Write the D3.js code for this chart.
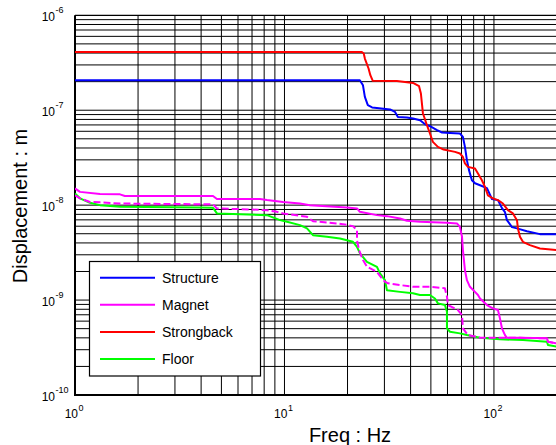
<!DOCTYPE html>
<meta charset="utf-8">
<script src="https://d3js.org/d3.v7.min.js"></script>
<style>
  body { margin: 0; background: #fff; }
  text { font-family: "Liberation Sans", Arial, sans-serif; }
</style>
<div id="my_dataviz"></div>
<script>

  // data: [freq (Hz), displacement (m)]
  var structure = [[1,2.07e-7],[22.9,2.07e-7],[23.7,1.83e-7],[24.2,1.38e-7],[25.0,1.13e-7],[26.2,1.07e-7],
    [27.6,1.057e-7],[31.9,1.02e-7],[33.7,9.6e-8],[34.8,8.5e-8],[38.4,8.38e-8],[41.1,8.18e-8],[44.4,7.85e-8],
    [46.9,7.12e-8],[49.5,6.78e-8],[53.5,6.16e-8],[56.5,5.83e-8],[61.7,5.77e-8],[68.8,5.69e-8],[71.1,5.24e-8],
    [72.7,4.11e-8],[74.3,2.98e-8],[76.0,2.34e-8],[78.5,1.83e-8],[81.2,1.70e-8],[85.8,1.62e-8],[92.6,1.51e-8],
    [97.8,1.16e-8],[104.5,1.13e-8],[109.2,9.3e-9],[112.9,8.43e-9],[115.4,6.95e-9],[121.9,5.87e-9],
    [128.8,5.69e-9],[143.7,5.32e-9],[165.8,4.95e-9],[200,4.95e-9]];

  var strongback = [[1,4.11e-7],[23.4,4.11e-7],[23.9,3.95e-7],[24.2,3.5e-7],[25.2,2.75e-7],[25.7,2.34e-7],
    [26.4,2.04e-7],[34.4,2.03e-7],[41.1,1.94e-7],[43.9,1.79e-7],[44.8,1.5e-7],[45.3,1.18e-7],[45.8,9.3e-8],
    [47.9,6.95e-8],[49.5,5.69e-8],[51.1,4.64e-8],[54.0,4.11e-8],[57.5,3.85e-8],[65.2,3.64e-8],[68.8,3.5e-8],
    [71.1,3.22e-8],[72.7,2.75e-8],[75.1,2.53e-8],[81.2,2.43e-8],[83.9,2.16e-8],[87.6,1.83e-8],[90.6,1.56e-8],
    [93.6,1.27e-8],[98.9,1.18e-8],[104.5,1.13e-8],[110.4,1.04e-8],[116.6,8.86e-9],[123.2,8.18e-9],
    [128.8,6.95e-9],[130.2,5.69e-9],[133.1,4.64e-9],[137.5,4.11e-9],[148.5,3.79e-9],[165.8,3.5e-9],[200,3.36e-9]];

  var magnet = [[1,1.5e-8],[1.056,1.38e-8],[1.316,1.31e-8],[1.64,1.30e-8],[1.73,1.25e-8],[4.56,1.25e-8],
    [4.76,1.16e-8],[7.64,1.16e-8],[8.25,1.13e-8],[9.84,1.08e-8],[11.86,1.04e-8],[13.23,1.0e-8],[19.9,9.46e-9],
    [22.2,9.23e-9],[22.9,8.5e-9],[27.6,7.85e-9],[30.9,7.66e-9],[35.6,7.24e-9],[38.4,6.84e-9],[44.4,6.67e-9],
    [59.7,6.51e-9],[66.6,6.42e-9],[68.8,5.91e-9],[70.4,4.64e-9],[71.1,3.36e-9],[72.7,2.07e-9],[74.3,1.62e-9],
    [76.8,1.38e-9],[81.2,1.22e-9],[83.9,1.13e-9],[85.8,1.04e-9],[92.6,8.86e-10],[98.9,8.18e-10],[104.5,7.85e-10],
    [106.8,6.42e-10],[109.2,5.04e-10],[112.9,4.28e-10],[115.4,4.01e-10],[133.1,4.01e-10],[179.1,3.95e-10],
    [181.1,3.64e-10],[200,3.5e-10]];

  var magnetDashed = [[1,1.27e-8],[1.056,1.18e-8],[1.179,1.08e-8],[1.316,1.07e-8],[1.64,1.04e-8],[4.56,1.02e-8],
    [4.76,9.23e-9],[6.84,9.01e-9],[8.25,8.86e-9],[9.21,8.5e-9],[9.84,8.18e-9],[12.81,7.53e-9],[13.68,6.78e-9],
    [19.0,6.31e-9],[21.2,6.01e-9],[22.2,5.45e-9],[22.2,4.28e-9],[22.7,3.36e-9],[23.7,2.64e-9],[24.8,2.24e-9],
    [27.6,1.99e-9],[29.2,1.69e-9],[30.2,1.56e-9],[31.2,1.5e-9],[35.6,1.44e-9],[41.1,1.38e-9],[49.5,1.38e-9],
    [58.3,1.33e-9],[59.7,1.08e-9],[60.3,8.86e-10],[67.3,7.85e-10],[70.4,6.95e-10],[71.1,5.04e-10],[75.1,4.28e-10],
    [85.8,4.01e-10],[115.4,4.01e-10],[133.1,4.01e-10],[179.1,3.95e-10],[181.1,3.64e-10],[200,3.5e-10]];

  var floor = [[1,1.33e-8],[1.056,1.18e-8],[1.179,1.06e-8],[1.316,1.0e-8],[1.64,9.6e-9],[3.95,9.46e-9],
    [4.56,9.37e-9],[4.76,8.18e-9],[8.25,7.85e-9],[9.52,6.95e-9],[10.28,6.67e-9],[11.86,6.16e-9],[12.81,5.69e-9],
    [13.68,4.83e-9],[15.95,4.64e-9],[18.4,4.46e-9],[21.23,4.11e-9],[22.19,3.64e-9],[22.93,3.1e-9],[24.76,2.53e-9],
    [27.64,2.24e-9],[28.57,1.91e-9],[30.18,1.62e-9],[30.85,1.27e-9],[35.59,1.22e-9],[41.06,1.18e-9],
    [44.35,1.13e-9],[49.48,1.13e-9],[52.28,1.04e-9],[54.04,9.23e-10],[58.35,8.86e-10],[59.66,7.53e-10],
    [59.66,5.04e-10],[61.66,4.64e-10],[68.82,4.46e-10],[74.31,4.28e-10],[85.77,4.01e-10],[106.8,3.86e-10],
    [137.5,3.79e-10],[179.1,3.64e-10],[181.1,3.36e-10],[200,3.22e-10]];

  var legendNames = ["Structure", "Magnet", "Strongback", "Floor"];
  var legendColors = ["#0000ff", "#ff00ff", "#ff0000", "#00ff00"];
  var xTickExp = [0, 1, 2];
  var yTickExp = [-10, -9, -8, -7, -6];

  // set the dimensions of the graph
  var W = 556, H = 445;
  var plot = {left: 75, right: 557, top: 15.3, bottom: 395};

  var svg = d3.select("#my_dataviz")
    .append("svg")
      .attr("width", W)
      .attr("height", H);

  svg.append("rect").attr("width", W).attr("height", H).attr("fill", "#fff");

  var x = d3.scaleLog().domain([1, 200]).range([plot.left, plot.right]);
  var y = d3.scaleLog().domain([1e-10, 1e-6]).range([plot.bottom, plot.top]);

  // grid (major + minor, solid black)
  var grid = svg.append("g").attr("stroke", "#000").attr("stroke-width", 1);
  grid.selectAll(".vx")
    .data(x.ticks().filter(function(d){ return d > 1 && d < 200; }))
    .enter().append("line")
      .attr("x1", function(d){ return x(d); }).attr("x2", function(d){ return x(d); })
      .attr("y1", plot.top).attr("y2", plot.bottom);
  grid.selectAll(".hy")
    .data(y.ticks().filter(function(d){ return d > 1.01e-10 && d < 0.99e-6; }))
    .enter().append("line")
      .attr("y1", function(d){ return y(d); }).attr("y2", function(d){ return y(d); })
      .attr("x1", plot.left).attr("x2", plot.right);

  // frame
  svg.append("line").attr("x1", plot.left).attr("x2", plot.right)
    .attr("y1", plot.top).attr("y2", plot.top).attr("stroke", "#000").attr("stroke-width", 1.3);
  svg.append("path")
    .attr("d", "M" + plot.left + "," + plot.top + "V" + plot.bottom + "H" + plot.right)
    .attr("fill", "none").attr("stroke", "#000").attr("stroke-width", 2);

  // curves
  svg.append("clipPath").attr("id", "clip")
    .append("rect").attr("x", plot.left).attr("y", plot.top)
    .attr("width", plot.right - plot.left).attr("height", plot.bottom - plot.top);

  var line = d3.line()
    .x(function(d){ return x(d[0]); })
    .y(function(d){ return y(d[1]); });

  var series = [
    {data: floor, color: legendColors[3]},
    {data: structure, color: legendColors[0]},
    {data: strongback, color: legendColors[2]},
    {data: magnetDashed, color: legendColors[1], dash: "7,3"},
    {data: magnet, color: legendColors[1]}
  ];
  svg.append("g").attr("clip-path", "url(#clip)")
    .selectAll("path")
    .data(series)
    .enter().append("path")
      .attr("d", function(d){ return line(d.data); })
      .attr("fill", "none")
      .attr("stroke", function(d){ return d.color; })
      .attr("stroke-width", 2)
      .attr("stroke-linejoin", "round")
      .attr("stroke-dasharray", function(d){ return d.dash || null; });

  // tick labels
  yTickExp.forEach(function(e) {
    var yy = y(Math.pow(10, e));
    svg.append("text").attr("x", 55).attr("y", yy + 5.5)
      .attr("text-anchor", "end").style("font-size", "12px").text("10");
    svg.append("text").attr("x", 55.5).attr("y", yy - 2)
      .style("font-size", "9px").text(String(e));
  });
  xTickExp.forEach(function(e) {
    var xx = x(Math.pow(10, e));
    svg.append("text").attr("x", xx + 3).attr("y", 418)
      .attr("text-anchor", "end").style("font-size", "12px").text("10");
    svg.append("text").attr("x", xx + 3.5).attr("y", 411)
      .style("font-size", "9px").text(String(e));
  });

  // axis titles
  svg.append("text")
    .attr("transform", "translate(27,206) rotate(-90)")
    .attr("text-anchor", "middle")
    .style("font-size", "20px")
    .text("Displacement : m");
  svg.append("text")
    .attr("x", 350).attr("y", 441.5)
    .attr("text-anchor", "middle")
    .style("font-size", "20px")
    .text("Freq : Hz");

  // legend
  var lg = svg.append("g");
  lg.append("rect").attr("x", 89.5).attr("y", 261.5).attr("width", 171).attr("height", 114.5)
    .attr("fill", "#fff").attr("stroke", "#000").attr("stroke-width", 1.2);
  legendNames.forEach(function(name, i) {
    var ly = 277.7 + i * 27.1;
    lg.append("line").attr("x1", 100).attr("x2", 155).attr("y1", ly).attr("y2", ly)
      .attr("stroke", legendColors[i]).attr("stroke-width", 2);
    lg.append("text").attr("x", 162).attr("y", ly + 5)
      .style("font-size", "14px").text(name);
  });

</script>
